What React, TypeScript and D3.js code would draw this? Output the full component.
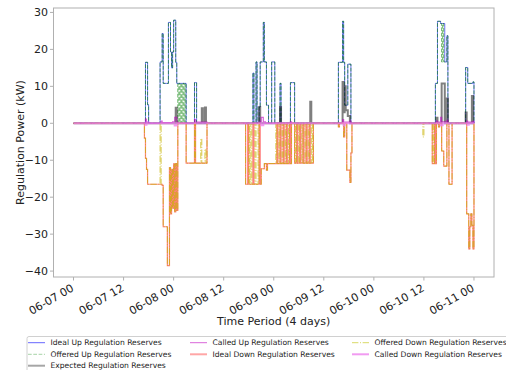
import React, { useRef, useEffect } from "react";
import * as d3 from "d3";

type Pt = [number, number | null];

// x axis: hours since 06-07 00
const xTicks = [0, 12, 24, 36, 48, 60, 72, 84, 96];
const xTickLabels = ["06-07 00", "06-07 12", "06-08 00", "06-08 12", "06-09 00", "06-09 12", "06-10 00", "06-10 12", "06-11 00"];
const yTicks = [-40, -30, -20, -10, 0, 10, 20, 30];

// step change points [hour, kW]; each value holds until the next point
const idealUp: Pt[] = [
    [0, 0],
    [17.25, 16.5], [17.75, 5], [18, 0],
    [20.75, 16.6], [21.25, 24.3], [21.5, 10.8], [22.75, 27.3], [23.25, 19.3], [23.5, 15], [23.75, 19.3], [24, 27.9], [24.5, 16.5], [24.75, 10.8], [27, 0],
    [29, 11], [29.5, 0],
    [43, 13.6], [43.25, 0], [43.75, 16.6], [44, 0], [44.5, 4.4], [44.75, 16.6], [45.5, 27.3], [45.75, 16.6], [46.25, 4.9], [46.75, 0],
    [47.5, 16.6], [48.25, 0], [49.5, 10.8], [49.75, 0], [52, 11], [53, 0],
    [63.5, 16.5], [64.5, 27.6], [64.75, 16.5], [65, 4.9], [65.75, 16], [66.5, 0],
    [86.75, 10.8], [87.25, 27.6], [88, 27], [89, 16.6], [89.5, 23.7], [89.75, 0],
    [94, 15.1], [94.5, 10.8], [95.75, 11.2], [96, 0],
];

const offeredUp: Pt[] = [
    [0, 0],
    [17.25, 16.5], [17.75, 5], [18, 0],
    [20.75, 16.6], [21.25, 24.3], [21.5, 10.8], [22.75, 27.3], [23.25, 19.3], [23.5, 15], [23.75, 19.3], [24, 27.9], [24.5, 16.5],
    [24.75, 10.8], [25, 0], [25.25, 10.8], [25.5, 0], [25.75, 10.8], [26, 0], [26.25, 10.8], [26.5, 0], [26.75, 10.8], [27, 0],
    [29, 11], [29.5, 0],
    [43, 13.6], [43.25, 0], [43.75, 16.6], [44, 0], [44.5, 4.4], [44.75, 16.6], [45.5, 27.3], [45.75, 16.6], [46.25, 4.9], [46.75, 0],
    [47.5, 16.6], [48.25, 0], [49.5, 10.8], [49.75, 0], [52, 11], [53, 0],
    [63.5, 16.5], [64.5, 27.6], [64.75, 16.5], [65, 4.9], [65.75, 16], [66.5, 0],
    [86.75, 10.8], [87.25, 27.6], [88, 27], [88.25, 16.6], [88.5, 27], [88.75, 16.6], [89.5, 23.7], [89.75, 0],
    [94, 15.1], [94.5, 10.8], [95.75, 11.2], [96, 0],
];

const expected: Pt[] = [
    [0, 0],
    [24.5, 4.2], [24.75, 0], [30.75, 4.1], [31, 0], [31.5, 4.3], [31.75, 0],
    [44.5, 4.4], [44.75, 0], [49.5, 4.4], [49.75, 0], [56.75, 5.8], [57, 0],
    [64.5, 11.2], [64.75, 3], [65, 10], [65.25, 3.5], [65.75, 2], [66.25, 0],
    [87, 1.5], [87.25, 0], [88.25, 10.8], [89, 0], [89.25, 6.7], [89.75, 0],
    [94, 2.9], [94.25, 0], [95.5, 7.4], [95.75, 0], [96, 0],
];

const calledUp: Pt[] = [
    [0, null],
    [17, 0], [17.25, 1.1], [17.5, 0.3], [18, 0], [21, 0.6], [21.25, 0.2], [23.75, 0.4], [24.25, 1.6], [24.75, 0.3], [25, 0], [29, 1], [29.25, 0.3], [32, 0], [32, null],
    [43, 0], [44.75, 0.5], [45, 1.6], [45.5, 0.4], [46, 0], [52, 0.4], [52.25, 0], [53, 0], [53, null],
    [63.5, 0], [64.5, 1], [64.75, 0.3], [66.25, 0.6], [66.5, 0], [66.75, 0], [66.75, null],
    [86.75, 0], [87, 0.6], [87.25, 0.3], [88, 1.6], [88.25, 0.4], [89.5, 0.8], [89.75, 0], [90, 0], [90, null],
    [94, 0], [94.25, 0.6], [94.5, 0.3], [95.75, 0.5], [96, 0],
];

const idealDown: Pt[] = [
    [0, 0],
    [17, -4], [17.25, -9.5], [17.5, -12.5], [17.75, -16.5], [21.25, -16.8], [21.5, -28], [22.5, -38.5], [23, -12], [23.25, -24.5], [23.5, -12.5],
    [23.75, -23], [24, -11], [24.25, -24], [24.5, -10.9], [24.75, -23.6], [25, 0],
    [27, -10.8], [29, 0], [29.25, -10.8], [32, 0],
    [41.25, -16.5], [41.75, 0], [42, -16.5], [43, 0], [43.25, -16.5], [44.5, 0], [44.75, -16.5], [45, -12.3], [45.75, -10.9], [46.25, -12.7], [46.5, -10.9],
    [48.75, 0], [49, -10.9], [49.5, 0], [49.75, -10.9], [50.25, 0], [50.5, -10.9], [51, 0], [51.25, -10.9], [51.75, 0], [52, -10.9], [52.25, 0],
    [53, -10.8], [53.5, 0], [53.75, -10.8], [54.25, 0], [54.5, -10.8], [55, 0], [55.25, -10.8], [55.75, 0], [56, -10.8], [56.5, 0], [56.75, -10.8], [57.5, 0],
    [63.5, -1], [63.75, 0], [64.75, -3.7], [65, 0], [65.5, -12.7], [66.25, -16], [66.5, -8], [66.75, 0],
    [86, -10.9], [86.5, 0], [86.75, -10.9], [87, 0], [87.5, -1], [87.75, 0], [88.25, -7.5], [88.75, -11.6], [89.5, 0], [90, -16.5], [90.75, 0],
    [94.25, -24.5], [94.75, -34], [95, -28], [95.25, -24.5], [95.5, -27.6], [95.75, -34], [96, 0],
];

const offeredDown: Pt[] = [
    [0, 0],
    [17, -4], [17.25, -9.5], [17.5, -12.5], [17.75, -16.5], [20.75, 0], [21, -16.8], [21.5, -28], [22.5, -38.5], [23, -12], [23.25, -24.5], [23.5, -12.5],
    [23.75, -23], [24, -11], [24.25, -24], [24.5, -10.9], [24.75, -23.6], [25, 0],
    [27, -10.8], [29, 0], [29.25, -10.8], [30.5, -4.2], [30.75, -10.8], [31.5, -7], [31.75, -10.8], [32, 0],
    [41.25, -16.5], [42, 0], [42.25, -16.5], [42.5, 0], [42.75, -16.5], [43.5, 0], [43.75, -16.5], [44.25, 0], [44.5, -16.5], [45, -12.3], [45.75, -10.9], [46.25, -12.7], [46.5, -10.9],
    [48.5, 0], [48.75, -10.9], [49.25, 0], [49.5, -10.9], [50, 0], [50.25, -10.9], [50.75, 0], [51, -10.9], [51.5, 0], [51.75, -10.9], [52.25, 0],
    [53, -10.8], [53.25, 0], [53.5, -10.8], [54, 0], [54.25, -10.8], [54.75, 0], [55, -10.8], [55.5, 0], [55.75, -10.8], [56.25, 0], [56.5, -10.8], [57, 0], [57.25, -10.8], [57.5, 0],
    [63.5, -1], [63.75, 0], [64.75, -3.7], [65, 0], [65.5, -12.7], [66.25, -16], [66.5, -8], [66.75, 0],
    [83.75, -3.7], [84, 0],
    [86, -10.9], [86.25, 0], [86.5, -10.9], [87, 0], [87.5, -1], [87.75, 0], [88.25, -7.5], [88.75, -11.6], [89.5, 0], [90, -16.5], [90.75, 0],
    [94.25, -24.5], [94.75, -34], [95, -28], [95.25, -24.5], [95.5, -27.6], [95.75, -34], [96, 0],
];

const calledDown: Pt[] = [
    [0, 0], [17.25, -0.4], [17.5, 0], [24.25, -0.6], [24.75, 0], [45, -0.5], [45.5, 0],
    [64.75, -0.5], [65, 0], [88, -0.5], [88.5, 0], [94.5, -0.4], [94.75, 0], [96, 0],
];

const seriesNames = [
    "Ideal Up Regulation Reserves",
    "Offered Up Regulation Reserves",
    "Expected Regulation Reserves",
    "Called Up Regulation Reserves",
    "Ideal Down Regulation Reserves",
    "Offered Down Regulation Reserves",
    "Called Down Regulation Reserves",
];
const seriesData = [idealUp, offeredUp, expected, calledUp, idealDown, offeredDown, calledDown];
const styles = [
    { color: "#0000ff", opacity: 0.55, width: 1, dash: null },
    { color: "#008000", opacity: 0.6, width: 1, dash: "3.7,1.6" },
    { color: "#000000", opacity: 0.5, width: 2, dash: null },
    { color: "#bf00bf", opacity: 0.6, width: 1.2, dash: null },
    { color: "#ff0000", opacity: 0.5, width: 1.2, dash: null },
    { color: "#c8b400", opacity: 0.7, width: 1, dash: "6.4,1.6,1,1.6" },
    { color: "#ee82ee", opacity: 0.8, width: 2, dash: null },
];
const legendStyles = [
    { color: "#0000ff", opacity: 0.6, width: 1 },
    { color: "#008000", opacity: 0.35, width: 1 },
    { color: "#000000", opacity: 0.35, width: 2 },
    { color: "#bf00bf", opacity: 0.6, width: 1 },
    { color: "#ff0000", opacity: 0.35, width: 2 },
    { color: "#bfbf00", opacity: 0.6, width: 1 },
    { color: "#ee82ee", opacity: 0.8, width: 2 },
];

const font = "DejaVu Sans";

const App = () => {
    const ref = useRef<SVGSVGElement>(null);

    useEffect(() => {
        const svg = d3.select(ref.current);
        svg.selectAll("*").remove();

        const left = 53.5, right = 494, top = 8, bottom = 277;
        const x = d3.scaleLinear().domain([-4.8, 100.8]).range([left, right]);
        const y = d3.scaleLinear().domain([-41.6, 31.2]).range([bottom, top]);

        svg.append("rect").attr("x", 0).attr("y", 0).attr("width", 506).attr("height", 370).attr("fill", "white");

        const line = d3.line<Pt>()
            .defined(d => d[1] !== null)
            .x(d => x(d[0]))
            .y(d => y(d[1] as number))
            .curve(d3.curveStepAfter);

        seriesData.forEach((data, i) => {
            const s = styles[i];
            svg.append("path")
                .datum(data)
                .attr("d", line)
                .attr("fill", "none")
                .attr("stroke", s.color)
                .attr("stroke-opacity", s.opacity)
                .attr("stroke-width", s.width)
                .attr("stroke-dasharray", s.dash);
        });

        // frame
        svg.append("rect")
            .attr("x", left).attr("y", top)
            .attr("width", right - left).attr("height", bottom - top)
            .attr("fill", "none").attr("stroke", "#b0b0b0").attr("stroke-width", 1);

        // y axis
        const gy = svg.append("g");
        yTicks.forEach(t => {
            gy.append("line").attr("x1", left - 3.5).attr("x2", left).attr("y1", y(t)).attr("y2", y(t))
                .attr("stroke", "#b0b0b0");
            gy.append("text").attr("x", left - 5.5).attr("y", y(t)).attr("dy", "0.36em")
                .attr("text-anchor", "end").attr("font-family", font).attr("font-size", 11).attr("fill", "#222")
                .text(String(t).replace("-", "\u2212"));
        });

        // x axis
        const gx = svg.append("g");
        xTicks.forEach((t, i) => {
            gx.append("line").attr("x1", x(t)).attr("x2", x(t)).attr("y1", bottom).attr("y2", bottom + 3.5)
                .attr("stroke", "#b0b0b0");
            gx.append("text")
                .attr("transform", `translate(${x(t) - 3},${bottom + 6}) rotate(-30)`)
                .attr("text-anchor", "end").attr("dy", "0.75em")
                .attr("font-family", font).attr("font-size", 11).attr("fill", "#222")
                .text(xTickLabels[i]);
        });

        svg.append("text").attr("x", (left + right) / 2).attr("y", 324.5).attr("text-anchor", "middle")
            .attr("font-family", font).attr("font-size", 11).attr("fill", "#222").text("Time Period (4 days)");
        svg.append("text").attr("transform", `translate(24,${(top + bottom) / 2}) rotate(-90)`).attr("text-anchor", "middle")
            .attr("font-family", font).attr("font-size", 11).attr("fill", "#222").text("Regulation Power (kW)");

        // legend, 3 columns
        const legend = svg.append("g");
        legend.append("rect").attr("x", 27).attr("y", 336.5).attr("width", 520).attr("height", 50).attr("rx", 2)
            .attr("fill", "white").attr("stroke", "#d0d0d0");
        const colX = [28, 190, 352];
        const rowY = [342.7, 354.3, 365.7];
        const layout = [[0, 0], [0, 1], [0, 2], [1, 0], [1, 1], [2, 0], [2, 1]];
        seriesNames.forEach((name, i) => {
            const [c, r] = layout[i];
            const s = legendStyles[i];
            legend.append("line").attr("x1", colX[c]).attr("x2", colX[c] + 17).attr("y1", rowY[r]).attr("y2", rowY[r])
                .attr("stroke", s.color).attr("stroke-opacity", s.opacity).attr("stroke-width", s.width)
                .attr("stroke-dasharray", styles[i].dash);
            legend.append("text").attr("x", colX[c] + 22.5).attr("y", rowY[r]).attr("dy", "0.36em")
                .attr("font-family", font).attr("font-size", 7.6).attr("fill", "#222").text(name);
        });
    }, []);

    return <svg ref={ref} width={506} height={370} style={{ position: "absolute", left: 0, top: 0 }} />;
};

export default App;
